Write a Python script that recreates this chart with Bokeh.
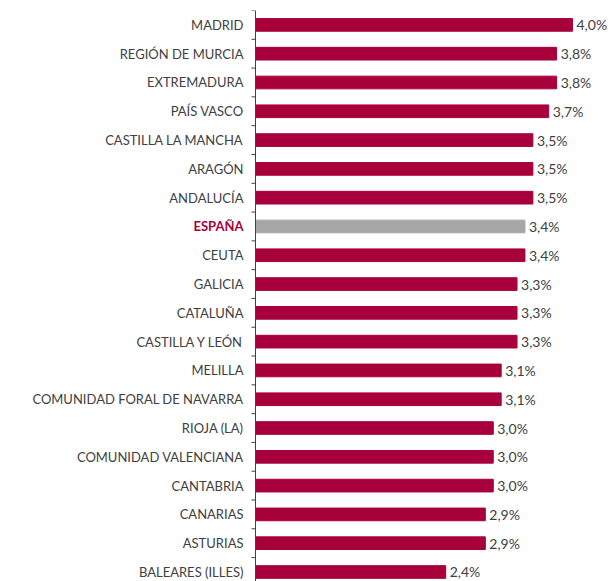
from bokeh.plotting import figure
from bokeh.models import Range1d, ColumnDataSource, Span
from bokeh.core.properties import value
from bokeh.embed import file_html
from bokeh.resources import INLINE

regions = ["MADRID", "REGIÓN DE MURCIA", "EXTREMADURA", "PAÍS VASCO",
           "CASTILLA LA MANCHA", "ARAGÓN", "ANDALUCÍA", "ESPAÑA", "CEUTA",
           "GALICIA", "CATALUÑA", "CASTILLA Y LEÓN", "MELILLA",
           "COMUNIDAD FORAL DE NAVARRA", "RIOJA (LA)", "COMUNIDAD VALENCIANA",
           "CANTABRIA", "CANARIAS", "ASTURIAS", "BALEARES (ILLES)"]
values = [4.0, 3.8, 3.8, 3.7, 3.5, 3.5, 3.5, 3.4, 3.4, 3.3, 3.3, 3.3,
          3.1, 3.1, 3.0, 3.0, 3.0, 2.9, 2.9, 2.4]
highlight = "ESPAÑA"

RED = "#A8003B"
GREY = "#A6A6A6"
TXT = "#404040"
AXIS = "#404040"

PX = 1 / 79.25  # data units per pixel on x

ypos = list(range(len(regions)))
bar_colors = [GREY if r == highlight else RED for r in regions]
lab_colors = [RED if r == highlight else TXT for r in regions]
lab_styles = ["bold" if r == highlight else "normal" for r in regions]
val_text = [f"{v:.1f}%".replace(".", ",") for v in values]

src = ColumnDataSource(dict(y=ypos, v=values, zero=[0] * len(values),
                            bc=bar_colors, lc=lab_colors, ls=lab_styles,
                            name=regions, vt=val_text))

bounds = [-0.5] + [i + 0.5 for i in ypos[:-1]]
tick_src = ColumnDataSource(dict(y=bounds, x0=[0] * len(bounds),
                                 x1=[-4 * PX] * len(bounds)))

p = figure(width=614, height=581, output_backend="svg", toolbar_location=None,
           x_range=Range1d(-255 * PX, 359 * PX), y_range=Range1d(19.33, -0.5),
           x_axis_location=None, y_axis_location=None,
           min_border_left=0, min_border_right=0,
           min_border_top=10, min_border_bottom=0)
p.outline_line_color = None
p.xgrid.visible = False
p.ygrid.visible = False

p.hbar(y="y", left=0, right="v", height=0.44, color="bc", source=src)

p.add_layout(Span(location=0, dimension="height", line_color=AXIS, line_width=1))
p.segment(x0="x0", y0="y", x1="x1", y1="y", line_color=AXIS, line_width=1,
          source=tick_src)

p.text(x="v", y="y", text="vt", source=src, x_offset=4,
       text_align="left", text_baseline="middle", text_font=value("Lato"),
       text_font_size="14px", text_color=TXT)

p.text(x="zero", y="y", text="name", source=src, x_offset=-12,
       text_align="right", text_baseline="middle", text_font=value("Lato"),
       text_font_size="13px", text_color="lc", text_font_style="ls")

open("out.html", "w").write(file_html(p, INLINE))
